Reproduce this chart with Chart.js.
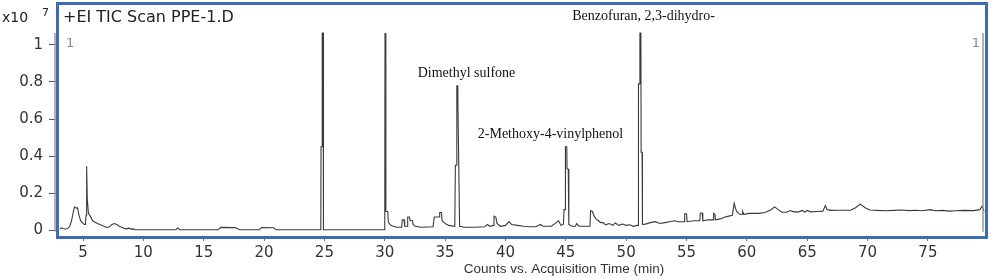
<!DOCTYPE html>
<html>
<head>
<meta charset="utf-8">
<script src="https://cdn.jsdelivr.net/npm/chart.js@4.4.0/dist/chart.umd.min.js"></script>
<style>
  html, body { margin: 0; padding: 0; background: #fff; }
</style>
</head>
<body>
<canvas id="tic" width="991" height="278"></canvas>
<script>
// retention time (min) and TIC abundance (x10^7 counts)
const retentionTime = [
  3.1, 3.2, 3.35, 3.55, 3.75, 3.9, 4.05, 4.2, 4.3, 4.45, 4.55, 4.65, 4.8, 4.95, 5.1, 5.2, 5.25, 5.3, 5.35, 5.45,
  5.6, 5.8, 6.0, 6.2, 6.4, 6.6, 6.8, 7.0, 7.2, 7.4, 7.6, 7.8, 8.0, 8.2, 8.4, 8.6, 8.8, 9.0, 9.2, 9.3,
  12.7, 12.85, 13.0, 16.2, 16.4, 17.6, 18.0, 19.6, 19.8, 20.8, 21.0,
  24.7, 24.72, 24.8, 24.82, 24.9, 24.92,
  30.0, 30.02, 30.08, 30.1, 30.25, 30.3, 30.5, 30.7, 31.0, 31.4, 31.45, 31.6, 31.65, 31.85, 31.9, 32.05, 32.1, 32.3,
  32.35, 32.5, 33.0, 34.0, 34.1, 34.5, 34.55, 34.7, 34.75, 35.0, 35.3, 35.8,
  35.85, 35.95, 35.97, 36.05, 36.07, 36.15, 36.2,
  36.6, 37.5, 38.3, 38.5, 38.7, 39.0, 39.05, 39.2, 39.3, 39.6, 40.0, 40.3, 40.5, 41.0, 41.5, 42.0, 42.5, 42.9, 43.1,
  43.8, 44.2, 44.4, 44.6, 44.8, 44.85, 44.95, 44.97, 45.08, 45.1, 45.2, 45.25,
  45.5, 45.8, 45.9, 46.1, 47.0, 47.05, 47.2, 47.35, 47.5, 47.7, 47.9, 48.1, 48.3, 48.6, 48.9, 49.1, 49.4, 49.7,
  50.0, 50.3, 50.6, 50.9, 51.0, 51.02, 51.12, 51.14, 51.22, 51.24, 51.32, 51.35,
  51.6, 52.0, 52.4, 52.8, 53.2, 53.6, 54.0, 54.3, 54.8, 54.85, 55.0, 55.05, 55.6, 56.1, 56.15, 56.3, 56.35,
  56.8, 57.2, 57.25, 57.35, 57.4, 57.8, 58.2, 58.5, 58.8, 58.95, 59.05, 59.15, 59.4, 59.6, 59.65, 59.75,
  60.2, 60.6, 61.0, 61.5, 62.0, 62.3, 62.6, 62.9, 63.3, 63.6, 63.9, 64.3, 64.6, 64.8, 65.0, 65.3, 65.8,
  66.3, 66.5, 66.65, 67.0, 67.5, 68.0, 68.6, 69.0, 69.4, 69.8, 70.2, 70.8, 71.5, 72.2, 72.8, 73.5, 74.0,
  74.5, 75.2, 75.6, 76.2, 76.8, 77.3, 78.0, 78.8, 79.3, 79.5, 79.65
];
const abundance = [
  0.005, 0.012, 0.008, 0.004, 0.01, 0.02, 0.05, 0.1, 0.125, 0.118, 0.12, 0.085, 0.05, 0.04, 0.03, 0.03, 0.08, 0.345, 0.17, 0.09,
  0.075, 0.05, 0.042, 0.035, 0.03, 0.025, 0.018, 0.014, 0.018, 0.03, 0.035, 0.03, 0.02, 0.015, 0.01, 0.006, 0.01, 0.005, 0.006, 0.001,
  0.001, 0.012, 0.001, 0.001, 0.014, 0.013, 0.001, 0.001, 0.013, 0.012, 0.001,
  0.001, 0.45, 0.45, 1.065, 1.065, 0.001,
  0.001, 1.065, 1.065, 0.1, 0.1, 0.04, 0.025, 0.02, 0.015, 0.015, 0.055, 0.055, 0.02, 0.02, 0.07, 0.07, 0.05, 0.05,
  0.03, 0.02, 0.015, 0.018, 0.07, 0.07, 0.095, 0.095, 0.05, 0.035, 0.025, 0.02,
  0.35, 0.35, 0.78, 0.78, 0.64, 0.64, 0.02,
  0.015, 0.015, 0.018, 0.03, 0.02, 0.025, 0.075, 0.07, 0.035, 0.02, 0.025, 0.045, 0.03, 0.025, 0.02, 0.018, 0.018, 0.03, 0.02,
  0.02, 0.04, 0.05, 0.025, 0.03, 0.11, 0.11, 0.45, 0.45, 0.33, 0.33, 0.03,
  0.02, 0.02, 0.035, 0.02, 0.02, 0.105, 0.1, 0.075, 0.06, 0.05, 0.04, 0.04, 0.028, 0.035, 0.025, 0.038, 0.025, 0.032,
  0.025, 0.028, 0.02, 0.025, 0.025, 0.79, 0.79, 1.065, 1.065, 0.42, 0.42, 0.03,
  0.032, 0.04, 0.045, 0.035, 0.04, 0.045, 0.05, 0.045, 0.045, 0.088, 0.088, 0.045, 0.05, 0.05, 0.092, 0.092, 0.05,
  0.055, 0.055, 0.09, 0.085, 0.055, 0.06, 0.07, 0.075, 0.08, 0.145, 0.12, 0.1, 0.085, 0.085, 0.1, 0.085,
  0.09, 0.09, 0.09, 0.095, 0.11, 0.125, 0.11, 0.096, 0.096, 0.105, 0.098, 0.098, 0.106, 0.096, 0.106, 0.098, 0.1,
  0.102, 0.132, 0.11, 0.106, 0.107, 0.107, 0.107, 0.12, 0.14, 0.12, 0.108, 0.106, 0.104, 0.106, 0.108, 0.105, 0.107,
  0.104, 0.11, 0.104, 0.106, 0.102, 0.104, 0.106, 0.105, 0.11, 0.13, 0.1
];

const timeTicks = [5, 10, 15, 20, 25, 30, 35, 40, 45, 50, 55, 60, 65, 70, 75];
const countTicks = [0, 0.2, 0.4, 0.6, 0.8, 1];

const peakNames = ['Dimethyl sulfone', '2-Methoxy-4-vinylphenol', 'Benzofuran, 2,3-dihydro-'];
// where each label sits (time of its centre, abundance of its baseline)
const peakLabelTime = [36.77, 43.73, 51.44];
const peakLabelLevel = [0.827, 0.497, 1.135];

const sansFont = '"DejaVu Sans", sans-serif';

const overlay = {
  id: 'overlay',
  afterDraw(chart) {
    const { ctx, chartArea: a, scales: { x, y } } = chart;
    ctx.save();

    // grey range markers
    ctx.strokeStyle = '#9a9a9a';
    ctx.lineWidth = 1.5;
    ctx.beginPath();
    ctx.moveTo(a.left - 4, y.getPixelForValue(1.065));
    ctx.lineTo(a.left - 4, y.getPixelForValue(-0.01));
    ctx.moveTo(a.right - 2, y.getPixelForValue(1.065));
    ctx.lineTo(a.right - 2, y.getPixelForValue(-0.01));
    ctx.stroke();

    // blue frame
    ctx.strokeStyle = '#3c6cb4';
    ctx.lineWidth = 3;
    ctx.strokeRect(a.left - 1.5, a.top - 1.5, a.width + 3, a.height + 3);

    // scale factor and title
    ctx.fillStyle = '#222';
    ctx.textBaseline = 'alphabetic';
    ctx.textAlign = 'left';
    ctx.font = '14px ' + sansFont;
    ctx.fillText('x10', 2, 22);
    ctx.font = '11px ' + sansFont;
    ctx.fillText('7', 42, 16);
    ctx.font = '16px ' + sansFont;
    ctx.fillText('+EI TIC Scan PPE-1.D', a.left + 4, 22);

    ctx.fillStyle = '#888';
    ctx.font = '13px ' + sansFont;
    ctx.fillText('1', a.left + 7, 47);
    ctx.textAlign = 'right';
    ctx.fillText('1', a.right - 5, 47);

    // axis title
    ctx.fillStyle = '#333';
    ctx.textAlign = 'center';
    ctx.textBaseline = 'middle';
    ctx.font = '13.5px "Liberation Sans", Arial, sans-serif';
    ctx.fillText('Counts vs. Acquisition Time (min)', 564, 269);

    // peak names
    ctx.fillStyle = '#111';
    ctx.textBaseline = 'alphabetic';
    ctx.font = '14px "Liberation Serif", "Times New Roman", serif';
    peakNames.forEach((name, i) => {
      ctx.fillText(name, x.getPixelForValue(peakLabelTime[i]), y.getPixelForValue(peakLabelLevel[i]));
    });
    ctx.restore();
  }
};

const noPad = s => { s.paddingTop = 0; s.paddingBottom = 0; s.paddingLeft = 0; s.paddingRight = 0; };

new Chart(document.getElementById('tic'), {
  type: 'line',
  data: {
    datasets: [{
      data: retentionTime.map((t, i) => ({ x: t, y: abundance[i] })),
      borderColor: '#3a3a3a',
      borderWidth: 1.1,
      pointRadius: 0,
      tension: 0,
      fill: false
    }]
  },
  options: {
    responsive: false,
    animation: false,
    layout: { padding: { top: 5, right: 6, left: 0, bottom: 0 } },
    plugins: { legend: { display: false }, tooltip: { enabled: false } },
    scales: {
      x: {
        type: 'linear',
        min: 3.01,
        max: 79.73,
        afterBuildTicks: s => { s.ticks = timeTicks.map(v => ({ value: v })); },
        afterFit: s => { s.height = 42; noPad(s); },
        border: { display: false },
        grid: { drawOnChartArea: false, drawTicks: true, tickLength: 5, color: '#777' },
        ticks: { color: '#333', padding: 3, maxRotation: 0, font: { family: sansFont, size: 15 } }
      },
      y: {
        min: -0.0324,
        max: 1.2162,
        afterBuildTicks: s => { s.ticks = countTicks.map(v => ({ value: v })); },
        afterFit: s => { s.width = 59; noPad(s); },
        border: { display: false },
        grid: { drawOnChartArea: false, drawTicks: true, tickLength: 10, color: '#555' },
        ticks: { color: '#333', padding: 6, font: { family: sansFont, size: 15 },
                 callback: v => String(v) }
      }
    }
  },
  plugins: [overlay]
});
</script>
</body>
</html>
